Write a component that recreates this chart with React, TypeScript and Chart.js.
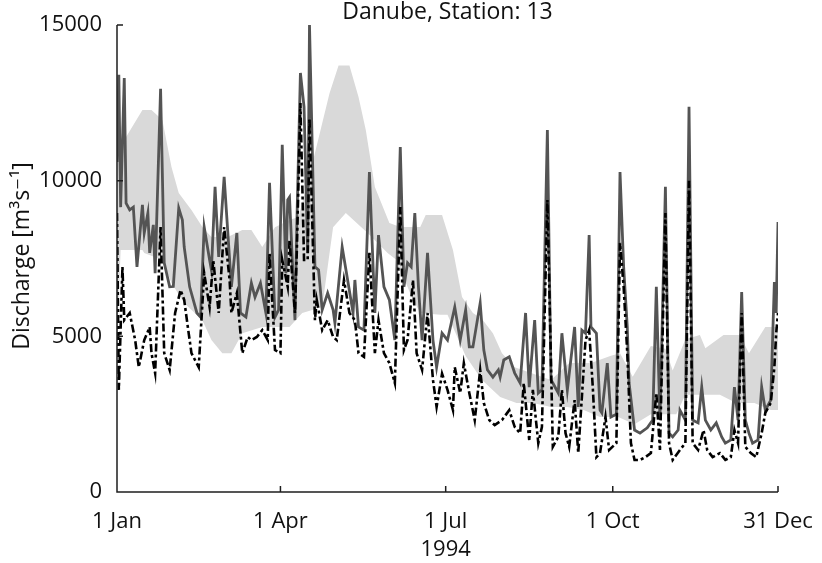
import React, { useEffect, useRef } from "react";
import { Chart, registerables } from "chart.js";

Chart.register(...registerables);

const FONT = '"Open Sans", "DejaVu Sans", sans-serif';

const TITLE = "Danube, Station: 13";
const Y_TITLE = "Discharge [m³s⁻¹]";
const X_TICK_DAYS = [0, 90, 181, 273, 364];
const X_TICK_LABELS: (string | string[])[] = ["1 Jan", "1 Apr", ["1 Jul", "1994"], "1 Oct", "31 Dec"];
const Y_TICKS = [0, 5000, 10000, 15000];

// Day of year (0 = 1 Jan 1994) and discharge in m3/s
const solidDays = [0, 1, 2, 4, 5, 7, 9, 11, 14, 15, 17, 18, 20, 21, 24, 26, 29, 31, 34, 36, 37, 40, 44, 46, 48, 51, 52, 54, 56, 59, 63, 66, 68, 71, 74, 76, 79, 82, 84, 87, 89, 91, 93, 94, 95, 98, 99, 101, 103, 105, 106, 109, 111, 113, 116, 119, 120, 124, 127, 130, 131, 133, 136, 139, 142, 144, 147, 150, 153, 156, 158, 160, 162, 164, 166, 168, 171, 174, 176, 179, 182, 186, 189, 192, 194, 196, 200, 202, 204, 207, 210, 211, 213, 216, 219, 222, 225, 227, 230, 232, 234, 237, 239, 240, 243, 245, 248, 252, 254, 256, 258, 260, 261, 264, 266, 267, 270, 272, 275, 277, 279, 281, 282, 285, 288, 292, 295, 297, 299, 302, 304, 306, 309, 310, 313, 315, 317, 320, 322, 324, 327, 330, 333, 335, 338, 340, 342, 344, 346, 348, 350, 353, 355, 357, 360, 362, 363, 364];
const solidValues = [10600, 13400, 9150, 13300, 9280, 9060, 9150, 7230, 9220, 8320, 8960, 7680, 8580, 7030, 12950, 7360, 6590, 6600, 9120, 8740, 7870, 6590, 5750, 5620, 8510, 7450, 7130, 9800, 7550, 10120, 6590, 8320, 5750, 5620, 6710, 6260, 6710, 5750, 9930, 5620, 5850, 11150, 7030, 9380, 9470, 5520, 8510, 13460, 12370, 7680, 15000, 7230, 7130, 5850, 6390, 5850, 5430, 7870, 6810, 5750, 6810, 5300, 5200, 10280, 5750, 8250, 6590, 6170, 4880, 11080, 6590, 7360, 7230, 8960, 6590, 4880, 7680, 4880, 4010, 5100, 4880, 5940, 4880, 5850, 4660, 4660, 6070, 4560, 3920, 3690, 3920, 3690, 4240, 4340, 3820, 3500, 5750, 3370, 5520, 3180, 3280, 11630, 3600, 3500, 3180, 5100, 3280, 5300, 2730, 5200, 5100, 8250, 5300, 5100, 2630, 2540, 4140, 2410, 2500, 10280, 7230, 5300, 3500, 1990, 1890, 2060, 2310, 6590, 2310, 9800, 1890, 1770, 1990, 2630, 2310, 12370, 2310, 2220, 3370, 2310, 1990, 2220, 1770, 1570, 1670, 3370, 2310, 6420, 2310, 1890, 1570, 1670, 3370, 2630, 2950, 6740, 5750, 8670];

const dashDays = [0, 1, 3, 4, 7, 10, 12, 15, 18, 19, 21, 24, 26, 29, 32, 35, 37, 39, 41, 45, 48, 51, 53, 56, 59, 62, 63, 66, 69, 72, 74, 77, 80, 83, 84, 87, 90, 91, 94, 95, 98, 99, 101, 103, 105, 106, 109, 110, 113, 116, 119, 121, 125, 128, 131, 133, 136, 139, 142, 144, 147, 150, 153, 156, 158, 160, 163, 165, 168, 171, 174, 176, 179, 182, 185, 186, 189, 191, 194, 197, 200, 202, 205, 208, 212, 216, 219, 222, 224, 227, 229, 232, 234, 237, 240, 243, 245, 247, 249, 252, 254, 256, 258, 260, 262, 264, 266, 269, 271, 275, 277, 279, 281, 283, 285, 288, 291, 294, 297, 299, 302, 304, 306, 310, 313, 315, 317, 320, 323, 325, 328, 332, 335, 338, 340, 342, 344, 346, 349, 352, 355, 357, 360, 362, 363, 364];
const dashValues = [8960, 3280, 7230, 5520, 5750, 4880, 4010, 4880, 5300, 4460, 3820, 8510, 4460, 3920, 5750, 6490, 6170, 5300, 4460, 4010, 7030, 5940, 7450, 5750, 8510, 6810, 5750, 6390, 4460, 4980, 4880, 4980, 5200, 4880, 7680, 4560, 4460, 7450, 6590, 8090, 5750, 7680, 12490, 7450, 7450, 12000, 5520, 6170, 5200, 5520, 4980, 4880, 6810, 5750, 5520, 4460, 4340, 7680, 4460, 5520, 4460, 4140, 3500, 9150, 4560, 4880, 6810, 4460, 3920, 5750, 3600, 2730, 3800, 3280, 2630, 4010, 3180, 4140, 3180, 2310, 3920, 2860, 2310, 2150, 2310, 2630, 2090, 1890, 3500, 1670, 3280, 1570, 2090, 9380, 1450, 1770, 3280, 1890, 1450, 2950, 1250, 3050, 4880, 5200, 3370, 1120, 1250, 2410, 1350, 1570, 8000, 6590, 4460, 1570, 1030, 1030, 1120, 1250, 3180, 1350, 8960, 1570, 1030, 1350, 1570, 10000, 1570, 1350, 1990, 1350, 1120, 1250, 1030, 1120, 1990, 1570, 5750, 1450, 1250, 1120, 1890, 2540, 2860, 4010, 5100, 5750];

const bandUpperDays = [0, 3, 5, 14, 19, 25, 30, 34, 41, 47, 52, 61, 69, 74, 80, 87, 95, 100, 109, 117, 122, 128, 133, 137, 142, 150, 156, 167, 170, 179, 185, 190, 196, 201, 207, 212, 219, 239, 249, 261, 272, 277, 284, 294, 302, 306, 313, 321, 324, 334, 343, 348, 357, 364];
const bandUpperValues = [10800, 11300, 11400, 12270, 12270, 11950, 10440, 9600, 9060, 8510, 8190, 8190, 8415, 8415, 7870, 8500, 8740, 8830, 10890, 12800, 13700, 13700, 12690, 11630, 9800, 8640, 8510, 8510, 8900, 8900, 7770, 6260, 5750, 5560, 5100, 4460, 4010, 3600, 4140, 4140, 4380, 4460, 3700, 4690, 4600, 3900, 4910, 5040, 4620, 5040, 5040, 4460, 5300, 5300];

const bandLowerDays = [0, 2, 14, 15, 25, 30, 37, 47, 52, 58, 63, 69, 80, 95, 102, 108, 113, 119, 126, 138, 149, 154, 162, 167, 178, 182, 192, 201, 211, 220, 229, 239, 248, 257, 266, 276, 285, 294, 308, 313, 332, 341, 351, 360, 364];
const bandLowerValues = [4700, 7770, 7770, 7680, 7450, 6710, 6070, 5520, 4880, 4460, 4460, 5100, 5300, 5300, 5750, 5850, 5940, 8500, 8960, 8320, 7680, 7450, 6300, 5750, 5690, 5690, 4370, 3600, 3050, 2860, 2860, 2730, 2730, 2630, 2410, 2410, 2180, 2500, 2500, 3120, 3120, 2860, 2860, 2630, 2630];

const toPoints = (xs: number[], ys: number[]) => xs.map((x, i) => ({ x, y: ys[i] }));

const framePlugin = {
  id: "frame",
  afterDraw(chart: any) {
    const { ctx, chartArea: a, scales } = chart;
    ctx.save();
    ctx.strokeStyle = "#1e1e1e";
    ctx.lineWidth = 1.5;
    ctx.beginPath();
    ctx.moveTo(a.left, a.top);
    ctx.lineTo(a.left, a.bottom);
    ctx.lineTo(a.right, a.bottom);
    Y_TICKS.forEach((v) => {
      const y = scales.y.getPixelForValue(v);
      ctx.moveTo(a.left, y);
      ctx.lineTo(a.left + 6, y);
    });
    X_TICK_DAYS.forEach((d) => {
      const x = scales.x.getPixelForValue(d);
      ctx.moveTo(x, a.bottom);
      ctx.lineTo(x, a.bottom - 6);
    });
    ctx.stroke();

    ctx.fillStyle = "#111";
    ctx.font = `23px ${FONT}`;
    ctx.textAlign = "center";
    ctx.textBaseline = "middle";
    ctx.fillText(TITLE, (a.left + a.right) / 2, 12);

    ctx.translate(22, 256);
    ctx.rotate(-Math.PI / 2);
    ctx.font = `23px ${FONT}`;
    ctx.fillText(Y_TITLE, 0, 0);
    ctx.restore();
  },
};

export default function App() {
  const ref = useRef<HTMLCanvasElement | null>(null);
  useEffect(() => {
    if (!ref.current) return;
    const chart = new Chart(ref.current, {
      type: "line",
      data: {
        datasets: [
          {
            label: "dash",
            data: toPoints(dashDays, dashValues),
            borderColor: "#000000",
            borderWidth: 2.6,
            borderDash: [8, 3, 3, 3],
            pointRadius: 0,
            tension: 0,
            fill: false,
            order: 0,
          },
          {
            label: "solid",
            data: toPoints(solidDays, solidValues),
            borderColor: "#545454",
            borderWidth: 2.8,
            pointRadius: 0,
            tension: 0,
            fill: false,
            order: 1,
          },
          {
            label: "upper",
            data: toPoints(bandUpperDays, bandUpperValues),
            borderColor: "rgba(0,0,0,0)",
            borderWidth: 0,
            backgroundColor: "#d9d9d9",
            pointRadius: 0,
            tension: 0,
            fill: "+1",
            order: 2,
          },
          {
            label: "lower",
            data: toPoints(bandLowerDays, bandLowerValues),
            borderColor: "rgba(0,0,0,0)",
            borderWidth: 0,
            pointRadius: 0,
            tension: 0,
            fill: false,
            order: 3,
          },
        ],
      },
      options: {
        responsive: false,
        animation: false,
        devicePixelRatio: 1,
        layout: { padding: { top: 25, right: 44, bottom: 0, left: 0 } },
        plugins: {
          legend: { display: false },
          tooltip: { enabled: false },
          title: { display: false },
          filler: { drawTime: "beforeDatasetsDraw" },
        },
        scales: {
          x: {
            type: "linear",
            min: 0,
            max: 364,
            grid: { display: false, drawTicks: false },
            border: { display: false },
            afterFit: (s: any) => {
              s.height = 71;
              s.paddingLeft = 0;
              s.paddingRight = 0;
            },
            afterBuildTicks: (s: any) => {
              s.ticks = X_TICK_DAYS.map((v) => ({ value: v }));
            },
            ticks: {
              autoSkip: false,
              maxRotation: 0,
              padding: 15,
              color: "#111",
              font: { family: FONT, size: 22, lineHeight: 1.3 },
              callback: (v: any) => {
                const i = X_TICK_DAYS.indexOf(Number(v));
                return i >= 0 ? X_TICK_LABELS[i] : "";
              },
            },
          },
          y: {
            type: "linear",
            min: 0,
            max: 15000,
            grid: { display: false, drawTicks: false },
            border: { display: false },
            afterFit: (s: any) => {
              s.width = 117;
              s.paddingTop = 0;
              s.paddingBottom = 0;
            },
            afterBuildTicks: (s: any) => {
              s.ticks = Y_TICKS.map((v) => ({ value: v }));
            },
            ticks: {
              padding: 15,
              color: "#111",
              font: { family: FONT, size: 22 },
              callback: (v: any) => String(v),
            },
          },
        },
      },
      plugins: [framePlugin],
    });
    return () => chart.destroy();
  }, []);

  return (
    <div style={{ position: "absolute", left: 0, top: 0, width: 822, height: 563, background: "#fff" }}>
      <canvas ref={ref} width={822} height={563} style={{ display: "block" }} />
    </div>
  );
}
